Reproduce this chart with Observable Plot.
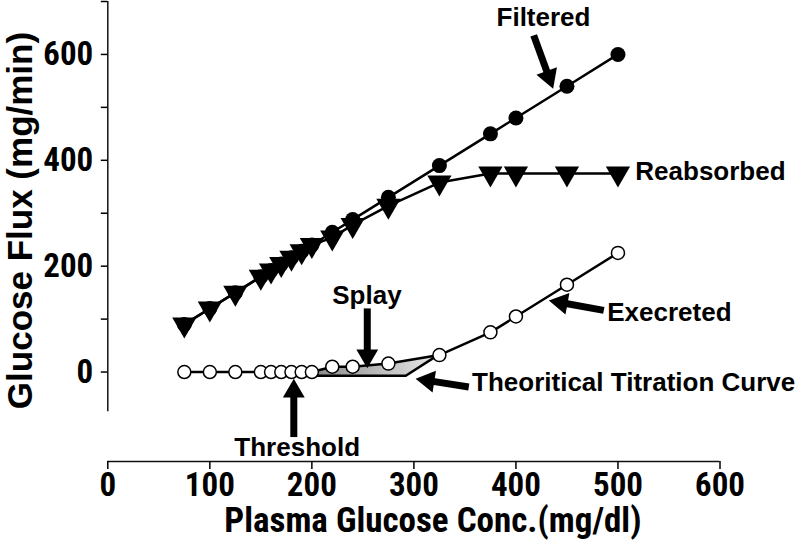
<!DOCTYPE html>
<html><head><meta charset="utf-8">
<script src="https://cdn.jsdelivr.net/npm/d3@7"></script>
<script src="https://cdn.jsdelivr.net/npm/@observablehq/plot@0.6"></script>
<style>body{margin:0;background:#fff} svg{display:block}</style>
</head><body><div id="chart"></div>
<script>
// ---- data ----
const conc       = [75,100,125,150,160,170,180,190,200,220,240,275,325,375,400,450,500];
const filtered   = [90,120,150,180,192,204,216,228,240,264,288,330,390,450,480,540,600];
const reabsorbed = [90,120,150,180,192,204,216,228,240,254,278,314,358,375,375,375,375];
const excreted   = [0,0,0,0,0,0,0,0,0,10,10,16,32,75,105,165,225];

// splay region and theoretical titration curve
const splayX = [203,220,240,275,322,292,203];
const splayY = [0,10,10,16,30,-7,-7];
const theoX  = [180,292,322];
const theoY  = [-7,-7,30];

// annotations
const labelText   = ["Filtered","Reabsorbed","Splay","Execreted","Theoritical Titration Curve","Threshold"];
const labelX      = [427,517,254,489.5,357,185.6];
const labelY      = [669,379,145,112.7,-21,-142.6];
const labelAnchor = ["middle","start","middle","start","start","middle"];
const arrowTailX  = [417.4,254.3,182.3,486.1,353.8];
const arrowTailY  = [636,120.2,-122.8,116.5,-28.3];
const arrowTipX   = [436.5,254.3,182.3,432.2,301.6];
const arrowTipY   = [535,6.9,-12.5,135.4,-12.5];

// axes
const xTicks = [0,100,200,300,400,500,600];
const yTicks = [0,100,200,300,400,500,600,700];
const xLabel = "Plasma Glucose Conc.(mg/dl)";
const yLabel = "Glucose Flux (mg/min)";

// ---- layout ----
const W = 800, H = 548, ML = 107.3, MR = 80.5, MT = 1, MB = 87;
const xDomain = [0,600], yDomain = [-169,700];
const xs = Plot.scale({x: {domain: xDomain, range: [ML, W - MR]}});
const ys = Plot.scale({y: {domain: yDomain, range: [H - MB, MT]}});

// arrow geometry derived from the scales
const HL = 19;                 // head length in px
const headR = 8.1;             // triangle symbol radius
const shaftX1 = [], shaftY1 = [], shaftX2 = [], shaftY2 = [], headX = [], headY = [], headRot = [];
arrowTailX.forEach((_, i) => {
  const tx = xs.apply(arrowTailX[i]), ty = ys.apply(arrowTailY[i]);
  const px = xs.apply(arrowTipX[i]),  py = ys.apply(arrowTipY[i]);
  const len = Math.hypot(px - tx, py - ty);
  const ux = (px - tx) / len, uy = (py - ty) / len;
  shaftX1.push(arrowTailX[i]); shaftY1.push(arrowTailY[i]);
  shaftX2.push(xs.invert(px - ux * (HL - 3))); shaftY2.push(ys.invert(py - uy * (HL - 3)));
  const c = HL * 2 / 3;
  headX.push(xs.invert(px - ux * c)); headY.push(ys.invert(py - uy * c));
  headRot.push(Math.atan2(ux, -uy) * 180 / Math.PI);
});
const arrIdx = arrowTailX.map((_, i) => i);
const midIdx = labelText.map((_, i) => i).filter(i => labelAnchor[i] === "middle");
const startIdx = labelText.map((_, i) => i).filter(i => labelAnchor[i] === "start");

const narrow = 'Roboto, "Open Sans", sans-serif';
const arial = '"Liberation Sans", Arial, Helvetica, sans-serif';

const chart = Plot.plot({
  width: W, height: H,
  marginLeft: ML, marginRight: MR, marginTop: MT, marginBottom: MB,
  x: {domain: xDomain},
  y: {domain: yDomain},
  style: {fontFamily: narrow, fontWeight: "bold", fontStretch: "condensed", color: "#000", background: "#fff"},
  marks: [
    // axes
    Plot.ruleX([0], {y1: -75, y2: 700, stroke: "#111", strokeWidth: 1.5}),
    Plot.ruleY([yDomain[0]], {x1: 0, x2: 600, stroke: "#111", strokeWidth: 1.5}),
    Plot.axisY({ticks: yTicks, tickFormat: d => d % 200 === 0 ? String(d) : "", tickSize: 6.5, tickPadding: 8,
      fontSize: 33, fontWeight: "bold", fontFamily: narrow, strokeWidth: 1.5, label: null}),
    Plot.axisX({ticks: xTicks, tickFormat: d => String(d), tickSize: 8, tickPadding: 3,
      fontSize: 33, fontWeight: "bold", fontFamily: narrow, strokeWidth: 1.5, label: null}),
    Plot.text([yLabel], {frameAnchor: "left", textAnchor: "middle", rotate: -90, dx: -87, dy: -11, fontSize: 35, fontWeight: "bold", fontFamily: arial}),
    Plot.text([xLabel], {frameAnchor: "bottom", textAnchor: "middle", dx: 19, dy: 70, fontSize: 35, fontWeight: "bold", fontFamily: narrow}),

    // splay region and theoretical curve
    Plot.line(splayX, {x: splayX, y: splayY, fill: "url(#splayGrad)", stroke: "none", curve: "linear-closed"}),
    Plot.line(theoX, {x: theoX, y: theoY, stroke: "#000", strokeWidth: 2.5}),

    // series lines
    Plot.line(conc, {x: conc, y: excreted, stroke: "#000", strokeWidth: 2.5}),
    Plot.line(conc, {x: conc, y: filtered, stroke: "#000", strokeWidth: 2.5}),
    Plot.line(conc, {x: conc, y: reabsorbed, stroke: "#000", strokeWidth: 2.5}),

    // series points
    Plot.dot(conc, {x: conc, y: filtered, r: 7.5, fill: "#000", stroke: "none"}),
    Plot.dot(conc, {x: conc, y: reabsorbed, symbol: "triangle", rotate: 180, r: 9, fill: "#000", stroke: "none"}),
    Plot.dot(conc, {x: conc, y: excreted, r: 6.5, fill: "#fff", stroke: "#000", strokeWidth: 1.5}),

    // arrows
    Plot.link(arrIdx, {x1: i => shaftX1[i], y1: i => shaftY1[i], x2: i => shaftX2[i], y2: i => shaftY2[i], stroke: "#000", strokeWidth: 7}),
    Plot.dot(arrIdx, {x: i => headX[i], y: i => headY[i], rotate: i => headRot[i], symbol: "triangle", r: headR, fill: "#000", stroke: "none"}),

    // labels
    Plot.text(midIdx, {x: i => labelX[i], y: i => labelY[i], text: i => labelText[i], textAnchor: "middle", fontSize: 26, fontWeight: "bold", fontFamily: arial}),
    Plot.text(startIdx, {x: i => labelX[i], y: i => labelY[i], text: i => labelText[i], textAnchor: "start", fontSize: 26, fontWeight: "bold", fontFamily: arial})
  ]
});

// gradient for the splay region
const ns = "http://www.w3.org/2000/svg";
const defs = document.createElementNS(ns, "defs");
const grad = document.createElementNS(ns, "linearGradient");
grad.setAttribute("id", "splayGrad");
grad.setAttribute("x1", "0"); grad.setAttribute("x2", "1"); grad.setAttribute("y1", "0"); grad.setAttribute("y2", "0");
[["0", "#8a8a8a"], ["1", "#e6e6e6"]].forEach(([o, c]) => {
  const s = document.createElementNS(ns, "stop");
  s.setAttribute("offset", o); s.setAttribute("stop-color", c);
  grad.appendChild(s);
});
defs.appendChild(grad);
chart.insertBefore(defs, chart.firstChild);
document.getElementById("chart").appendChild(chart);
</script>
</body></html>
